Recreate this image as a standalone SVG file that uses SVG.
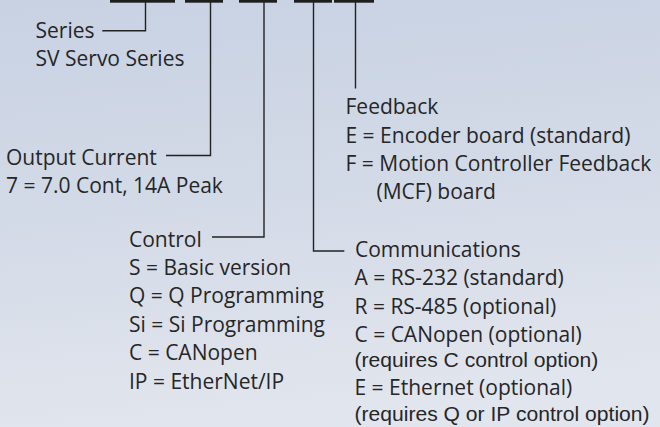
<svg xmlns="http://www.w3.org/2000/svg" width="660" height="427" viewBox="0 0 660 427">
<defs>
<linearGradient id="bg" x1="0" y1="0" x2="0.15" y2="1">
<stop offset="0" stop-color="#c8d2e3"/>
<stop offset="0.5" stop-color="#d3dae7"/>
<stop offset="1" stop-color="#e1e5ed"/>
</linearGradient>
<style>
.t{font-family:"Open Sans","Noto Sans","DejaVu Sans",sans-serif;font-size:21px;fill:#262626}
.a{font-family:"Liberation Sans",Arial,sans-serif;font-size:21.1px;fill:#262626}
.ln{fill:none;stroke:#222;stroke-width:1.4}
.bar{fill:#1e1e1e}
</style>
</defs>
<rect width="660" height="427" fill="url(#bg)"/>
<g id="bars">
<rect class="bar" x="110" y="0" width="65" height="2.7"/>
<rect class="bar" x="185" y="0" width="38" height="2.7"/>
<rect class="bar" x="239" y="0" width="38" height="2.7"/>
<rect class="bar" x="294" y="0" width="38" height="2.7"/>
<rect class="bar" x="334" y="0" width="40" height="2.7"/>
</g>
<g id="connectors">
<polyline class="ln" points="145.5,2 145.5,30.8 102.3,30.8"/>
<polyline class="ln" points="210.5,2 210.5,155.5 166,155.5"/>
<polyline class="ln" points="264,2 264,237 212,237"/>
<polyline class="ln" points="313.5,2 313.5,251 344.3,251"/>
<polyline class="ln" points="355.5,2 355.5,88.5"/>
</g>
<g id="series">
<text class="t" x="35.5" y="37.7">Series</text>
<text class="t" x="35.5" y="66.2">SV Servo Series</text>
</g>
<g id="output-current">
<text class="t" x="6" y="165">Output Current</text>
<text class="t" x="6" y="193.4">7 = 7.0 Cont, 14A Peak</text>
</g>
<g id="control">
<text class="t" x="129" y="246.6">Control</text>
<text class="t" x="129" y="275">S = Basic version</text>
<text class="t" x="129" y="303.4">Q = Q Programming</text>
<text class="t" x="129" y="331.8">Si = Si Programming</text>
<text class="t" x="129" y="360.2">C = CANopen</text>
<text class="t" x="129" y="388.6">IP = EtherNet/IP</text>
</g>
<g id="feedback">
<text class="t" x="345.5" y="114.4">Feedback</text>
<text class="t" x="345.5" y="142.8">E = Encoder board (standard)</text>
<text class="t" x="345.5" y="171.2">F = Motion Controller Feedback</text>
<text class="t" x="376.5" y="199.2">(MCF) board</text>
</g>
<g id="communications">
<text class="t" x="355" y="256.7">Communications</text>
<text class="t" x="354.5" y="285.1">A = RS-232 (standard)</text>
<text class="t" x="354.5" y="313.5">R = RS-485 (optional)</text>
<text class="t" x="354.5" y="341.9">C = CANopen (optional)</text>
<text class="a" x="354.5" y="367.2">(requires C control option)</text>
<text class="t" x="354.5" y="395.3">E = Ethernet (optional)</text>
<text class="a" x="354.5" y="420.8">(requires Q or IP control option)</text>
</g>
</svg>
